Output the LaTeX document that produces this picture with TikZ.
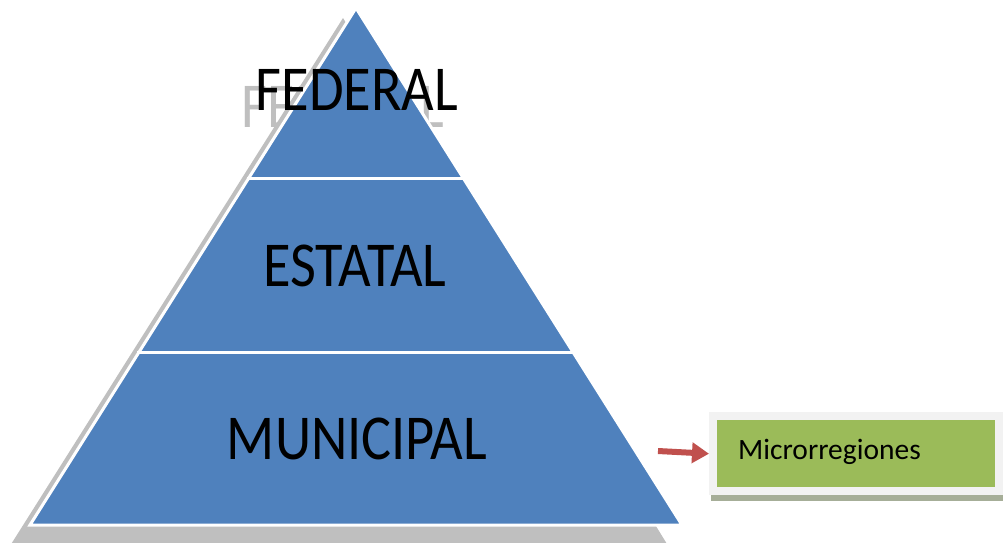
\documentclass[tikz,border=0pt]{standalone}
\usepackage{fontspec}
\setmainfont{Carlito}
\usetikzlibrary{arrows.meta}
\definecolor{pyrblue}{HTML}{4F81BD}
\definecolor{shadowgray}{HTML}{BFBFBF}
\definecolor{boxgreen}{HTML}{9BBB59}
\definecolor{boxouter}{HTML}{F2F2F2}
\definecolor{boxshadow}{HTML}{A6AE98}
\definecolor{arrowred}{HTML}{C0504D}
\tikzset{
  bigtext/.style={font=\fontsize{64}{64}\selectfont, anchor=base, inner sep=0pt, xscale=0.88},
  bandsep/.style={draw=white, line width=3pt},
}
\begin{document}
\begin{tikzpicture}[x=1pt,y=-1pt]
\useasboundingbox (0,0) rectangle (1003,542);
% reflected gray text
\node[bigtext, text=shadowgray] (fedshadow) at (343,127) {FEDERAL};
% gray shadow of pyramid
\fill[shadowgray] (343,18) -- (3,557) -- (675,557) -- cycle;
% pyramid
\filldraw[fill=pyrblue, draw=white, line width=3pt, line join=miter] (356,8) -- (30,525) -- (682,525) -- cycle;
\draw[bandsep] (247,178) -- (465,178);
\draw[bandsep] (137,352) -- (575,352);
% labels
\node[bigtext] (federal) at (357,110) {FEDERAL};
\node[bigtext] (estatal) at (355,286) {ESTATAL};
\node[bigtext] (municipal) at (357,459) {MUNICIPAL};
% microrregiones box
\fill[boxshadow] (711,495) rectangle (1003,501);
\node[fill=boxouter, minimum width=294pt, minimum height=83pt, inner sep=0pt, anchor=north west] (microbox) at (709,412) {};
\node[fill=boxgreen, minimum width=278pt, minimum height=67pt, inner sep=0pt, anchor=north west] (micro) at (717,420) {};
\node[font=\fontsize{29.5}{30}\selectfont, anchor=base west, inner sep=0pt] (microtext) at (738,459) {Microrregiones};
% arrow
\coordinate (arrstart) at (658,451);
\draw[arrowred, line width=6pt, -{Triangle[length=17pt, width=20pt]}] (arrstart) -- (microbox.west);
\end{tikzpicture}
\end{document}
